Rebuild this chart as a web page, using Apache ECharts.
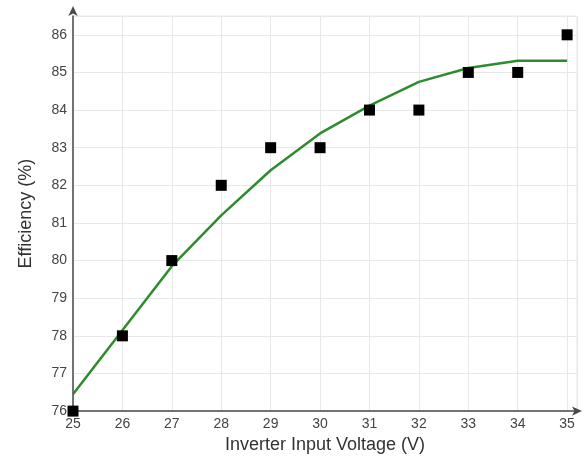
<!DOCTYPE html>
<html>
<head>
<meta charset="utf-8">
<script src="https://cdn.jsdelivr.net/npm/echarts@6/dist/echarts.min.js"></script>
<style>
  html, body { margin: 0; padding: 0; background: #fff; }
  #main { width: 584px; height: 459px; }
</style>
</head>
<body>
<div id="main"></div>
<script>
// measured points (square markers)
var voltage = [25, 26, 27, 28, 29, 30, 31, 32, 33, 34, 35];
var efficiency = [76, 78, 80, 82, 83, 83, 84, 84, 85, 85, 86];
// fitted curve (green line)
var fitVoltage = [25, 26, 27, 28, 29, 30, 31, 32, 33, 34, 35];
var fitEfficiency = [76.45, 78.15, 79.85, 81.2, 82.4, 83.38, 84.12, 84.75, 85.12, 85.31, 85.31];

var measured = voltage.map(function (v, i) { return [v, efficiency[i]]; });
var fitted = fitVoltage.map(function (v, i) { return [v, fitEfficiency[i]]; });

var chart = echarts.init(document.getElementById("main"));
var labelFont = "'Liberation Sans', Arial, sans-serif";
var option = {
  animation: false,
  grid: {
    left: 73,
    right: 7,
    top: 16,
    bottom: 46,
    show: true,
    borderColor: "#e6e6e6",
    borderWidth: 1
  },
  xAxis: {
    type: "value",
    min: 25,
    max: 35.2,
    interval: 1,
    name: "Inverter Input Voltage (V)",
    nameLocation: "middle",
    nameGap: 22,
    nameTextStyle: { fontSize: 18, color: "#333", fontFamily: labelFont },
    axisLine: {
      lineStyle: { color: "#4a4a4a", width: 1.5 },
      symbol: ["none", "arrow"],
      symbolSize: [7, 10],
      symbolOffset: [0, 5]
    },
    axisTick: { show: false },
    axisLabel: {
      color: "#444",
      fontSize: 14,
      fontFamily: labelFont,
      margin: 6,
      formatter: function (v) { return v % 1 === 0 ? v : ""; }
    },
    splitLine: { lineStyle: { color: "#e8e8e8" } }
  },
  yAxis: {
    type: "value",
    min: 76,
    max: 86.5,
    interval: 1,
    name: "Efficiency (%)",
    nameLocation: "middle",
    nameGap: 38,
    nameTextStyle: { fontSize: 18, color: "#333", fontFamily: labelFont },
    axisLine: {
      lineStyle: { color: "#4a4a4a", width: 1.5 },
      symbol: ["none", "arrow"],
      symbolSize: [7, 10],
      symbolOffset: [0, 10]
    },
    axisTick: { show: false },
    axisLabel: {
      color: "#444",
      fontSize: 14,
      fontFamily: labelFont,
      margin: 6,
      formatter: function (v) { return v % 1 === 0 ? v : ""; }
    },
    splitLine: { lineStyle: { color: "#e8e8e8" } }
  },
  series: [
    {
      name: "Fit",
      type: "line",
      data: fitted,
      showSymbol: false,
      lineStyle: { color: "#2e8b2e", width: 2.5 },
      z: 2
    },
    {
      name: "Measured",
      type: "scatter",
      data: measured,
      symbol: "rect",
      symbolSize: 11,
      itemStyle: { color: "#000", opacity: 1 },
      z: 3
    }
  ]
};
chart.setOption(option);
</script>
</body>
</html>
